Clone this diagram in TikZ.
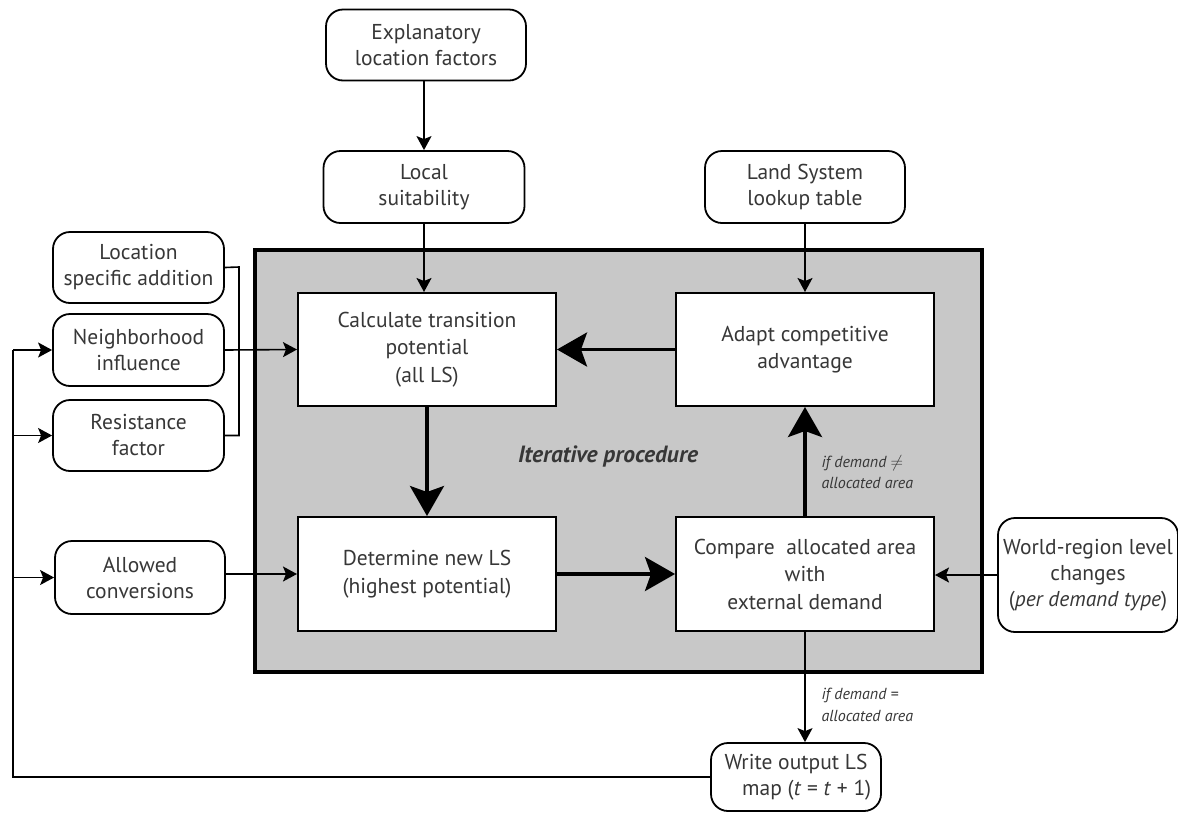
\documentclass[tikz,border=0pt]{standalone}
\usepackage{fontspec}
\setmainfont{PT Sans}
\usetikzlibrary{arrows.meta}
\definecolor{boxgray}{RGB}{200,200,200}
\definecolor{txt}{RGB}{55,55,55}
\begin{document}
\begin{tikzpicture}[x=1pt,y=-1pt,
  every node/.style={text=txt},
  rbox/.style={draw, rounded corners=17pt, line width=1.8pt, fill=white, align=center, inner sep=0pt, font=\fontsize{21.5}{26}\selectfont},
  sbox/.style={draw, line width=2pt, fill=white, align=center, inner sep=0pt, minimum width=258pt, font=\fontsize{21.5}{27.5}\selectfont},
  thin/.style={line width=1.6pt, -{Stealth[length=14pt,width=15pt,inset=3pt]}},
  thick/.style={line width=3.5pt, -{Stealth[length=30pt,width=34pt,inset=6pt]}},
  plain/.style={line width=1.6pt},
  lbl/.style={align=left, anchor=west, font=\fontsize{16}{21.5}\selectfont\itshape}
]
\useasboundingbox (0,0) rectangle (1178,812);
% iterative procedure frame
\draw[line width=4pt, fill=boxgray] (255,250) rectangle (982,672);
\node[font=\fontsize{23.5}{26}\selectfont\bfseries\itshape] (iter) at (608,456) {Iterative procedure};

% outer rounded boxes
\node[rbox, minimum width=200pt, minimum height=71pt] (expl) at (426,45) {Explanatory\\location factors};
\node[rbox, minimum width=201pt, minimum height=72pt] (local) at (424,187) {Local\\suitability};
\node[rbox, minimum width=200pt, minimum height=72pt] (lst) at (805,187) {Land System\\lookup table};
\node[rbox, minimum width=171pt, minimum height=71pt] (loc) at (138.5,267.5) {Location\\specific addition};
\node[rbox, minimum width=171pt, minimum height=72pt] (nb) at (138.5,350) {Neighborhood\\influence};
\node[rbox, minimum width=171pt, minimum height=71pt] (res) at (138.5,435.5) {Resistance\\factor};
\node[rbox, minimum width=170pt, minimum height=73pt] (al) at (140,577.5) {Allowed\\conversions};
\node[rbox, minimum width=180pt, minimum height=114pt] (wr) at (1088,575) {World-region level\\changes\\(\textit{per demand type})};
\node[rbox, minimum width=170pt, minimum height=68pt] (wo) at (796,777) {Write output LS\\\hspace*{1em}map (\textit{t} = \textit{t} + 1)};

% inner boxes
\node[sbox, minimum height=113pt] (calc) at (427,349.5) {Calculate transition\\potential\\(all LS)};
\node[sbox, minimum height=114pt] (det) at (427,574) {Determine new LS\\(highest potential)};
\node[sbox, minimum height=113pt] (adapt) at (805,349.5) {Adapt competitive\\advantage};
\node[sbox, minimum height=114pt] (cmp) at (805,574) {Compare\ \ allocated area\\with\\external demand};

% thin arrows
\draw[thin] (expl.south -| local.north) -- (local.north);
\draw[thin] (local.south) -- (local.south |- calc.north);
\draw[thin] (lst.south) -- (lst.south |- adapt.north);
\draw[thin] (nb.east) -- (calc.west);
\draw[thin] (al.east |- det.west) -- (det.west);
\draw[thin] (wr.west) -- (wr.west -| cmp.east);
\draw[thin] (cmp.south) -- (cmp.south |- wo.north);

% bracket
\coordinate (bk) at (239,267);
\draw[plain] (loc.east) -- (bk) |- (res.east);

% feedback loop
\coordinate (fbtop) at (13,350);
\draw[plain] (wo.west) -| (fbtop);
\draw[thin] (fbtop) -- (nb.west);
\draw[thin] (res.west -| fbtop) -- (res.west);
\draw[thin] (al.west -| fbtop) -- (al.west);

% thick arrows
\draw[thick] (calc.south) -- (det.north);
\draw[thick] (adapt.west) -- (calc.east);
\draw[thick] (det.east) -- (cmp.west);
\draw[thick] (cmp.north) -- (adapt.south);

% labels
\node[lbl] (l1) at (818,472) {if demand $\neq$\\allocated area};
\node[lbl] (l2) at (818,705) {if demand =\\allocated area};
\end{tikzpicture}
\end{document}
